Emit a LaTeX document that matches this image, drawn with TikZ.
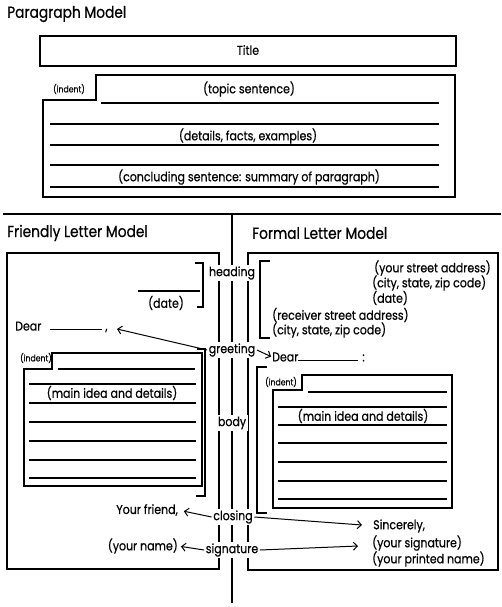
\documentclass[tikz,border=0pt]{standalone}
\usepackage{fontspec}
\setmainfont[FakeStretch=0.86,FakeBold=0.5]{Poppins}
\usetikzlibrary{arrows.meta}
\begin{document}
\begin{tikzpicture}[x=1pt,y=-1pt,
  ln/.style={line width=1.1pt},
  hd/.style={font=\fontsize{16}{18}\selectfont,inner sep=0pt},
  txt/.style={font=\fontsize{12.8}{15}\selectfont,inner sep=0pt},
  sm/.style={font=\fontsize{9}{11}\selectfont,inner sep=0pt},
  lab/.style={font=\fontsize{12.8}{15}\selectfont,fill=white,inner sep=1.5pt},
  arr/.style={line width=1pt,-{Straight Barb[length=4pt,width=8pt,line width=1pt]}}]
\useasboundingbox (0,0) rectangle (501,607);
% ---------- Paragraph model ----------
\node[hd,anchor=west] (pm) at (7,14) {Paragraph Model};
\draw[ln] (40,36) rectangle (456,66);
\node[txt] (title) at (248,50) {Title};
\draw[ln] (43,197) -- (43,100) -- (96,100) -- (96,75) -- (455,75) -- (455,197) -- cycle;
\node[sm] (pind) at (69,89) {(indent)};
\node[txt] (topic) at (249,89) {(topic sentence)};
\draw[ln] (101,103) -- (439,103);
\foreach \y in {124,145,165,187} \draw[ln] (50,\y) -- (439,\y);
\node[txt] (details) at (248,136) {(details, facts, examples)};
\node[txt] (concl) at (249,177) {(concluding sentence: summary of paragraph)};
% ---------- separators ----------
\draw[ln] (3,214) -- (501,214);
% ---------- titles ----------
\node[hd,anchor=west] (flm) at (7,233) {Friendly Letter Model};
\node[hd,anchor=west] (form) at (252,233) {Formal Letter Model};
% ---------- boxes and column lines ----------
\draw[ln] (219,253) -- (7,253) -- (7,569) -- (219,569) -- cycle;
\draw[ln] (248,253) -- (498,253) -- (498,570) -- (248,570) -- cycle;
\draw[ln] (232,214) -- (232,603);
% ---------- friendly letter ----------
\draw[ln] (195,263) -- (203,263) -- (203,307) -- (197,307);
\draw[ln] (138,291) -- (200,291);
\node[txt] (date) at (166,303) {(date)};
\node[txt,anchor=west] (dearF) at (15,327) {Dear\hspace{9pt}\rule[1pt]{52pt}{1pt}\hspace{3pt},};
\coordinate (dearFend) at (117,329);
\draw[ln] (24,486) -- (24,369) -- (52,369) -- (52,353) -- (202,353) -- (202,486) -- cycle;
\draw[ln] (197,349) -- (205,349) -- (205,496) -- (196,496);
\node[sm] (find) at (36,358) {(indent)};
\draw[ln] (58,369) -- (195,369);
\foreach \y in {384,403,422,441,460,478} \draw[ln] (29,\y) -- (196,\y);
\node[txt] (fmain) at (112,393) {(main idea and details)};
\node[txt,anchor=east] (friend) at (178,510) {Your friend,};
\node[txt,anchor=east] (yname) at (178,546) {(your name)};
% ---------- formal letter ----------
\draw[ln] (270,261) -- (260,261) -- (260,338) -- (270,338);
\node[txt,anchor=west] (a1) at (374,268) {(your street address)};
\node[txt,anchor=west] (a2) at (372,283) {(city, state, zip code)};
\node[txt,anchor=west] (a3) at (372,298) {(date)};
\node[txt,anchor=west] (r1) at (272,315) {(receiver street address)};
\node[txt,anchor=west] (r2) at (272,330) {(city, state, zip code)};
\node[txt,anchor=west] (dearR) at (272,357) {Dear\rule{60pt}{1pt}\hspace{4pt}:};
\draw[ln] (267,367) -- (257,367) -- (257,513) -- (267,513);
\draw[ln] (273,508) -- (273,390) -- (302,390) -- (302,375) -- (452,375) -- (452,508) -- cycle;
\node[sm] (rind) at (281,382) {(indent)};
\draw[ln] (308,392) -- (447,392);
\foreach \y in {407,425,443,462,481,499} \draw[ln] (278,\y) -- (447,\y);
\node[txt] (rmain) at (363,416) {(main idea and details)};
\node[txt,anchor=west] (sinc) at (373,526) {Sincerely,};
\node[txt,anchor=west] (ysig) at (372,543) {(your signature)};
\node[txt,anchor=west] (ypr) at (372,559) {(your printed name)};
\coordinate (sincend) at (362,525);
\coordinate (ysigend) at (358,546);
% ---------- labels ----------
\node[lab] (heading) at (232,273) {heading};
\node[lab] (greeting) at (232,350) {greeting};
\node[lab] (body) at (232,423) {body};
\node[lab] (closing) at (233,517) {closing};
\node[lab] (signature) at (232,550) {signature};
% ---------- arrows ----------
\draw[arr] (greeting.west) -- (dearFend);
\draw[arr,shorten >=1pt] (greeting.east) -- (dearR.west);
\draw[arr,shorten >=6pt] (closing.west) -- (friend.east);
\draw[arr] (closing.east) -- (sincend);
\draw[arr,shorten >=3pt] (signature.west) -- (yname.east);
\draw[arr] (signature.east) -- (ysigend);
\end{tikzpicture}
\end{document}
